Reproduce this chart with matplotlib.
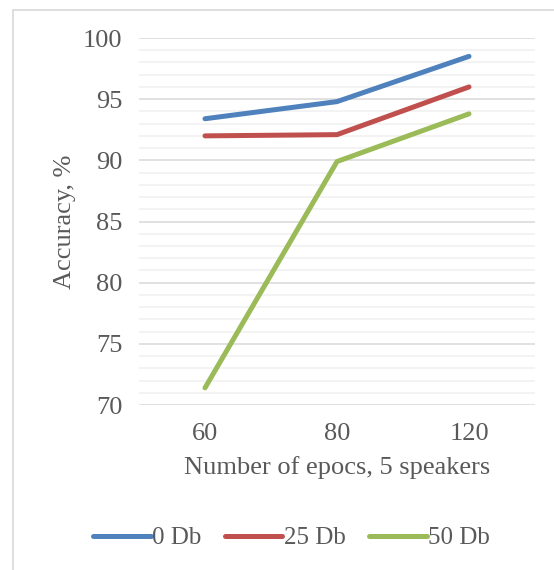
import matplotlib
matplotlib.use("Agg")
import matplotlib.pyplot as plt
from matplotlib.patches import Rectangle
from matplotlib.ticker import MultipleLocator

epochs = ["60", "80", "120"]
db0 = [93.4, 94.8, 98.5]
db25 = [92.0, 92.1, 96.0]
db50 = [71.4, 89.9, 93.8]
series_names = ["0 Db", "25 Db", "50 Db"]
colors = ["#4f81bd", "#c0504d", "#9bbb59"]

plt.rcParams['font.family'] = ['Liberation Serif', 'DejaVu Serif']
txt = "#595959"
fs = 19

fig = plt.figure(figsize=(5.54, 5.70), dpi=100)
ax = fig.add_axes([139 / 554, 1 - 405 / 570, 396 / 554, 367 / 570])

# outer chart border (only top/left visible, the rest is cropped)
fig.patches.append(Rectangle((12.5 / 554, -0.05), 1.2, 1 - 9.5 / 570 + 0.05,
                             transform=fig.transFigure, fill=False,
                             edgecolor="#d9d9d9", linewidth=1.2))

x = range(len(epochs))
for vals, name, c in zip([db0, db25, db50], series_names, colors):
    ax.plot(x, vals, color=c, linewidth=3.6, solid_capstyle="round",
            solid_joinstyle="round", label=name, zorder=3)

ax.set_xlim(-0.5, 2.5)
ax.set_ylim(70, 100)
ax.set_xticks(list(x))
ax.set_xticklabels(epochs)
ax.yaxis.set_major_locator(MultipleLocator(5))
ax.yaxis.set_minor_locator(MultipleLocator(1))
ax.grid(True, which="major", axis="y", color="#d9d9d9", linewidth=1.1)
ax.grid(True, which="minor", axis="y", color="#f0f0f0", linewidth=1.1)
ax.set_axisbelow(True)
for s in ax.spines.values():
    s.set_visible(False)
ax.tick_params(axis="both", which="both", length=0, labelsize=fs, colors=txt)
ax.tick_params(axis="y", pad=12)
ax.tick_params(axis="x", pad=13)

ax.set_xlabel("Number of epocs, 5 speakers", fontsize=fs, color=txt, labelpad=8)
ax.set_ylabel("Accuracy, %", fontsize=fs, color=txt, labelpad=5)

fig.legend(loc="center", bbox_to_anchor=(291.5 / 554, 1 - 538 / 570), ncol=3,
           frameon=False, fontsize=18, labelcolor=txt, handlelength=2.3,
           handletextpad=0.05, columnspacing=0.95)

fig.savefig("out.png", dpi=100)
